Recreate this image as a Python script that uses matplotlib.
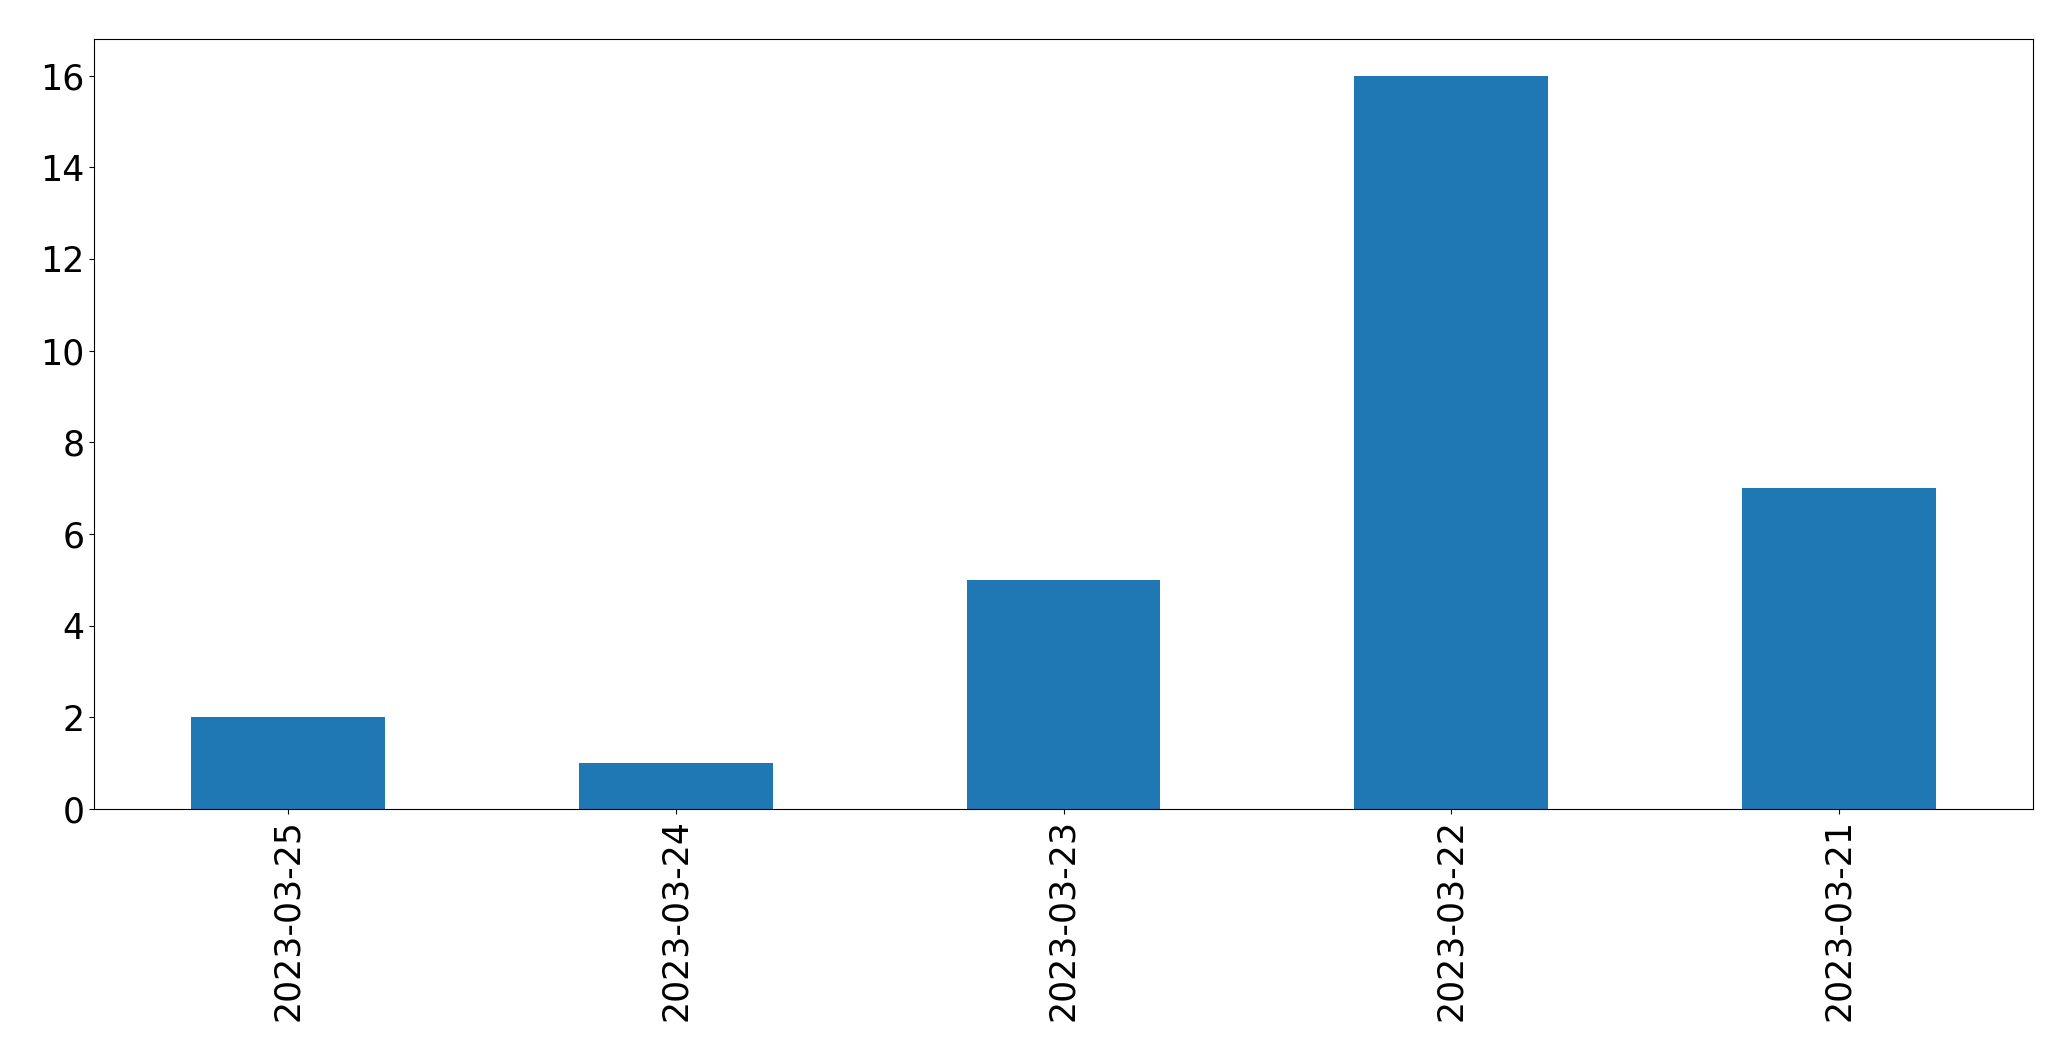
import matplotlib
matplotlib.use("Agg")
import matplotlib.pyplot as plt
import pandas as pd

dates = ["2023-03-25", "2023-03-24", "2023-03-23", "2023-03-22", "2023-03-21"]
counts = [2, 1, 5, 16, 7]

fig = plt.figure(figsize=(20.71, 10.61), dpi=100)
ax = fig.add_axes([94 / 2071, 1 - 809 / 1061, (2033 - 94) / 2071, (809 - 39) / 1061])
s = pd.Series(counts, index=dates)
s.plot(kind="bar", ax=ax, color="#1f77b4", width=0.5)
ax.tick_params(axis="both", labelsize=25)
ax.set_yticks(range(0, 17, 2))
fig.savefig("out.png", dpi=100)
